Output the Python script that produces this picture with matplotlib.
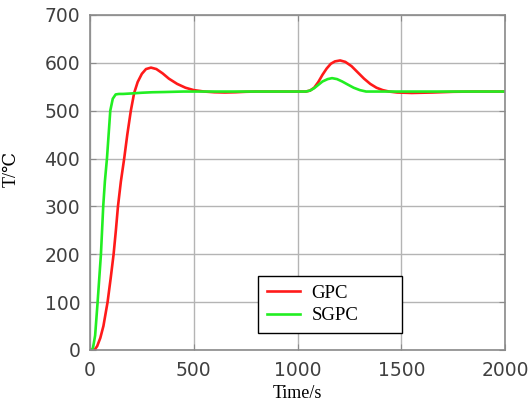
import matplotlib
matplotlib.use('Agg')
import matplotlib.pyplot as plt

# values
gpc_t = [0, 20, 24, 35, 50, 65, 85, 100, 114, 125, 135, 149, 165, 180, 197, 213,
         230, 250, 270, 294, 320, 350, 380, 420, 460, 500, 550, 600, 650, 700, 750,
         800, 900, 1000, 1040, 1060, 1080, 1100, 1120, 1140, 1160, 1180, 1205, 1230,
         1260, 1290, 1320, 1350, 1380, 1410, 1440, 1480, 1550, 1650, 1750, 1850, 2000]
gpc_T = [0, 0, 1, 8, 25, 50, 100, 150, 200, 250, 300, 352, 400, 450, 500, 537,
         560, 577, 587, 590, 587, 578, 567, 556, 548, 543, 540, 538.5, 538, 538.5, 539.5,
         540, 540, 540, 540, 542, 548, 560, 575, 588, 598, 603, 605, 602,
         593, 580, 567, 556, 548, 543, 540, 538, 537, 538, 539.5, 540, 540]

sgpc_t = [0, 10, 15, 25, 37, 53, 64, 72, 82, 98, 110, 124, 140, 160, 200, 250,
          300, 360, 450, 1040, 1060, 1080, 1100, 1120, 1145, 1166, 1190, 1215, 1240,
          1270, 1300, 1330, 2000]
sgpc_T = [0, 0, 5, 30, 100, 200, 300, 352, 400, 500, 525, 534, 535, 535, 536, 537.5,
          538.5, 539, 540, 540, 542, 547, 554, 561, 566, 568, 566, 561, 555,
          548, 543, 540, 540]

x_ticks = [0, 500, 1000, 1500, 2000]
y_ticks = [0, 100, 200, 300, 400, 500, 600, 700]

fig = plt.figure(figsize=(5.29, 4.05), dpi=100)
ax = fig.add_axes([0.170, 0.136, 0.785, 0.827])

ax.plot(gpc_t, gpc_T, color='#ff1a1a', lw=1.9, label='GPC')
ax.plot(sgpc_t, sgpc_T, color='#22ee22', lw=1.9, label='SGPC')

ax.set_xlim(0, 2000)
ax.set_ylim(0, 700)
ax.set_xticks(x_ticks)
ax.set_yticks(y_ticks)
ax.grid(True, color='#b4b4b4', lw=1.0)
ax.set_axisbelow(True)
for s in ax.spines.values():
    s.set_color('#8a8a8a')
    s.set_linewidth(1.2)
ax.tick_params(direction='in', length=4, color='#8a8a8a', labelsize=13.5,
               labelcolor='#404040', top=True, right=True, labeltop=False, labelright=False)
ax.tick_params(axis='x', pad=8)
ax.tick_params(axis='y', pad=7)

serif = ['Liberation Serif', 'DejaVu Serif']
ax.set_xlabel('Time/s', family=serif, fontsize=13)
ax.xaxis.set_label_coords(0.5, -0.105)
ax.set_ylabel('T/℃', family=serif, fontsize=13)
ax.yaxis.set_label_coords(-0.17, 0.54)

leg = ax.legend(loc='lower left', bbox_to_anchor=(0.405, 0.051, 0.347, 0.164),
                mode='expand', borderaxespad=0, fancybox=False, framealpha=1,
                edgecolor='black', prop={'family': serif, 'size': 13.5},
                handlelength=1.8, handletextpad=0.6, borderpad=0.45, labelspacing=0.3)
leg.get_frame().set_linewidth(1.0)

fig.savefig('out.png', dpi=100)
